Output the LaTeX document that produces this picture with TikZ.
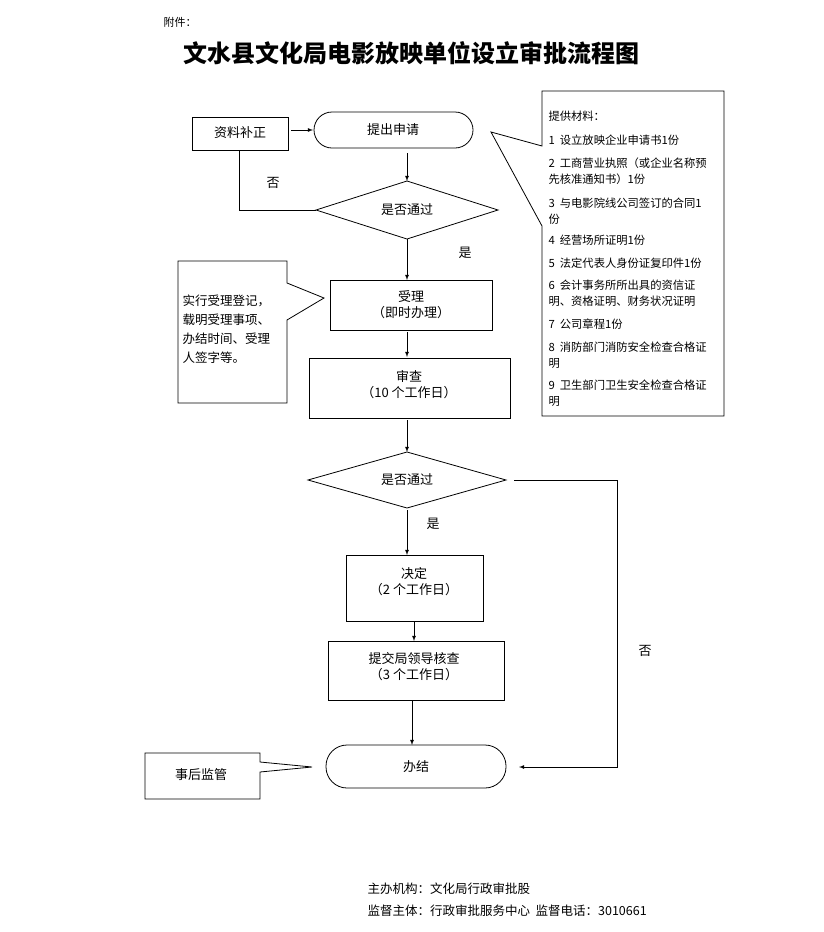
\documentclass[tikz,border=0pt]{standalone}
\usepackage{fontspec}
\setmainfont{Noto Sans CJK SC}
\begin{document}
\begin{tikzpicture}[x=1pt,y=-1pt,
  box/.style={draw,thick,minimum width=#1},
  arr/.style={-latex,thick},
  ln/.style={thick},
  t/.style={font=\fontsize{13}{16}\selectfont,align=center},
  s/.style={font=\fontsize{11.3}{16}\selectfont,anchor=west}]
\useasboundingbox (0,0) rectangle (823,932);
\node[anchor=west,font=\fontsize{11}{13}\selectfont] (fj) at (160,22) {附件：};
\node[font=\fontsize{24}{26}\selectfont\bfseries] (title) at (411,53) {文水县文化局电影放映单位设立审批流程图};
% nodes
\draw[ln] (192,117) rectangle (288,150);
\node[t] (bz) at (240,133) {资料补正};
\draw[ln,rounded corners=18pt] (314,112) rectangle (473,148);
\node[t] (sq) at (393,130) {提出申请};
\draw[ln] (316,210) -- (407,181) -- (498,210) -- (407,239) -- cycle;
\node[t] (d1) at (407,210) {是否通过};
\draw[ln] (330,280) rectangle (492,330);
\node[t] (sl) at (411,305) {受理\\（即时办理）};
\draw[ln] (309,358) rectangle (510,418);
\node[t] (sc) at (409,385) {审查\\（10 个工作日）};
\draw[ln] (308,480) -- (407,452) -- (506,480) -- (407,508) -- cycle;
\node[t] (d2) at (407,480) {是否通过};
\draw[ln] (346,555) rectangle (483,621);
\node[t] (jd) at (414,582) {决定\\（2 个工作日）};
\draw[ln] (328,641) rectangle (504,700);
\node[t] (tj) at (414,667) {提交局领导核查\\（3 个工作日）};
\draw[ln,rounded corners=21pt] (326,745) rectangle (506,788);
\node[t] (bj) at (416,767) {办结};
% connectors
\coordinate (a1) at (291,130); \coordinate (a2) at (313,130);
\draw[arr] (a1) -- (a2);
\coordinate (b1) at (407,153); \coordinate (b2) at (407,181);
\draw[arr] (b1) -- (b2);
\coordinate (c1) at (316,210); \coordinate (c2) at (239,150);
\draw[ln] (c1) -| (c2);
\node[t] (no1) at (273,183) {否};
\coordinate (e1) at (407,239); \coordinate (e2) at (407,280);
\draw[arr] (e1) -- (e2);
\node[t] (y1) at (465,253) {是};
\coordinate (f1) at (407,332); \coordinate (f2) at (407,357);
\draw[arr] (f1) -- (f2);
\coordinate (g1) at (407,420); \coordinate (g2) at (407,452);
\draw[arr] (g1) -- (g2);
\coordinate (h1) at (407,510); \coordinate (h2) at (407,555);
\draw[arr] (h1) -- (h2);
\node[t] (y2) at (433,524) {是};
\coordinate (i1) at (414,621); \coordinate (i2) at (414,641);
\draw[arr] (i1) -- (i2);
\coordinate (j1) at (412,700); \coordinate (j2) at (412,745);
\draw[arr] (j1) -- (j2);
\coordinate (k1) at (514,480); \coordinate (k2) at (617,480); \coordinate (k3) at (617,767); \coordinate (k4) at (519,767);
\draw[arr] (k1) -- (k2) -- (k3) -- (k4);
\node[t] (no2) at (645,651) {否};
% callouts
\draw[ln] (542,91) -- (724,91) -- (724,416) -- (542,416) -- (542,226) -- (491,132) -- (542,146) -- cycle;
\node[s] (tg) at (545,116) {提供材料：};
\node[s] at (545,140) {1 \ 设立放映企业申请书1份};
\node[s,align=left] at (545,171) {2 \ 工商营业执照（或企业名称预\\先核准通知书）1份};
\node[s,align=left] at (545,211) {3 \ 与电影院线公司签订的合同1\\份};
\node[s] at (545,240) {4 \ 经营场所证明1份};
\node[s] at (545,263) {5 \ 法定代表人身份证复印件1份};
\node[s,align=left] at (545,293) {6 \ 会计事务所所出具的资信证\\明、资格证明、财务状况证明};
\node[s] at (545,324) {7 \ 公司章程1份};
\node[s,align=left] at (545,355) {8 \ 消防部门消防安全检查合格证\\明};
\node[s,align=left] at (545,393) {9 \ 卫生部门卫生安全检查合格证\\明};
\draw[ln] (178,261) -- (287,261) -- (287,283) -- (324,298) -- (287,320) -- (287,403) -- (178,403) -- cycle;
\node[font=\fontsize{12.5}{19}\selectfont,align=left,anchor=north west] (lc) at (179,291) {实行受理登记，\\载明受理事项、\\办结时间、受理\\人签字等。};
\draw[ln] (145,753) -- (260,753) -- (260,762) -- (312,767) -- (260,772) -- (260,799) -- (145,799) -- cycle;
\node[t] (sh) at (201,775) {事后监管};
\node[anchor=west,font=\fontsize{12.5}{15}\selectfont] (f1t) at (364,889) {主办机构：文化局行政审批股};
\node[anchor=west,font=\fontsize{12.5}{15}\selectfont] (f2t) at (364,911) {监督主体：行政审批服务中心 \ 监督电话：3010661};
\end{tikzpicture}
\end{document}
